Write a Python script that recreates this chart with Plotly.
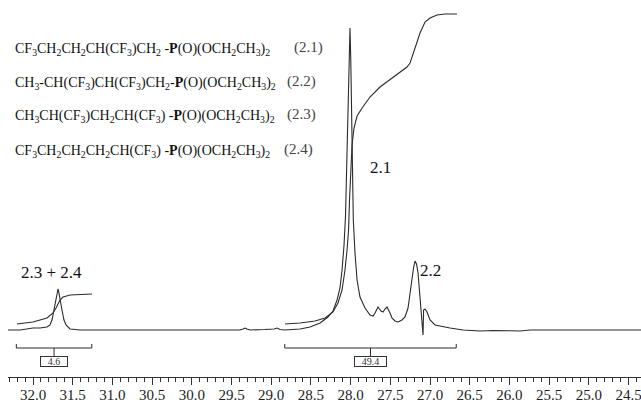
import plotly.graph_objects as go

# 31P NMR spectrum (ppm, intensity a.u.)
spec_ppm = [32.315, 32.164, 32.000, 31.912, 31.824, 31.786, 31.761, 31.736, 31.710, 31.698,
            31.685, 31.673, 31.660, 31.635, 31.610, 31.584, 31.534, 31.408, 31.156, 29.393,
            29.355, 29.330, 29.305, 29.267, 29.078, 28.965, 28.927, 28.889, 28.826, 28.637,
            28.511, 28.385, 28.285, 28.222, 28.171, 28.134, 28.108, 28.083, 28.064, 28.045,
            28.029, 28.016, 28.008, 27.998, 27.988, 27.976, 27.966, 27.945, 27.919, 27.882,
            27.819, 27.756, 27.718, 27.693, 27.655, 27.617, 27.592, 27.567, 27.542, 27.504,
            27.479, 27.441, 27.403, 27.353, 27.315, 27.277, 27.252, 27.227, 27.208, 27.189,
            27.170, 27.151, 27.126, 27.101, 27.088, 27.081, 27.063, 27.038, 27.000, 26.937,
            26.836, 26.748, 26.584, 26.370, 26.207, 26.055, 25.867, 25.741, 24.343]
spec_int = [0, 0, 2, 2, 3, 5, 10, 20, 32, 38,
            41, 37, 30, 20, 10, 5, 1, 0, 0, 0,
            1, 2, 1, 0, 0.5, 1, 2, 0.5, 0, 1,
            3, 7, 13, 19, 30, 42, 60, 85, 115, 170,
            230, 275, 302, 270, 230, 170, 110, 77, 50, 33,
            22, 15, 14, 17, 23, 19, 18, 21, 23, 17,
            12, 9, 8, 10, 13, 22, 37, 52, 62, 69,
            66, 57, 30, 13, -5, 20, 21, 18, 10, 5,
            3, 2, 0, -1, -0.5, -1, -1, 0, 0]

# integral curves
int_left_ppm = [32.202, 32.000, 31.824, 31.748, 31.710, 31.685, 31.660, 31.622, 31.534, 31.257]
int_left_val = [6, 8, 12, 17, 22, 27, 30, 33, 35, 36]
int_right_ppm = [28.826, 28.637, 28.448, 28.322, 28.222, 28.159, 28.108, 28.071, 28.045, 28.026,
                 28.014, 28.001, 27.982, 27.957, 27.919, 27.856, 27.756, 27.630, 27.466, 27.378,
                 27.290, 27.252, 27.214, 27.176, 27.126, 27.063, 27.000, 26.912, 26.811, 26.660]
int_right_val = [6, 7, 9, 12, 18, 27, 40, 60, 80, 100,
                 130, 160, 185, 202, 214, 222, 233, 243, 253, 258,
                 263, 267, 275, 285, 297, 308, 312, 315, 316, 316]

# integration regions and values
region_left = [32.21, 31.26]
region_right = [28.83, 26.67]
integral_labels = ["4.6", "49.4"]

# peak labels
peak_labels = ["2.1", "2.2", "2.3 + 2.4"]
peak_label_ppm = [27.63, 27.00, 31.761]
peak_label_int = [163, 60, 58]

# compound list
formulas = [
    "CF<sub>3</sub>CH<sub>2</sub>CH<sub>2</sub>CH(CF<sub>3</sub>)CH<sub>2</sub> -<b>P</b>(O)(OCH<sub>2</sub>CH<sub>3</sub>)<sub>2</sub>",
    "CH<sub>3</sub>-CH(CF<sub>3</sub>)CH(CF<sub>3</sub>)CH<sub>2</sub>-<b>P</b>(O)(OCH<sub>2</sub>CH<sub>3</sub>)<sub>2</sub>",
    "CH<sub>3</sub>CH(CF<sub>3</sub>)CH<sub>2</sub>CH(CF<sub>3</sub>) -<b>P</b>(O)(OCH<sub>2</sub>CH<sub>3</sub>)<sub>2</sub>",
    "CF<sub>3</sub>CH<sub>2</sub>CH<sub>2</sub>CH<sub>2</sub>CH(CF<sub>3</sub>) -<b>P</b>(O)(OCH<sub>2</sub>CH<sub>3</sub>)<sub>2</sub>",
]
formula_ids = ["(2.1)", "(2.2)", "(2.3)", "(2.4)"]

FONT = "Liberation Serif"
LINE = "#2b2b2b"

fig = go.Figure()
fig.add_trace(go.Scatter(x=spec_ppm, y=spec_int, mode="lines",
                         line=dict(color=LINE, width=1.1), hoverinfo="skip"))
fig.add_trace(go.Scatter(x=int_left_ppm, y=int_left_val, mode="lines",
                         line=dict(color=LINE, width=1.1), hoverinfo="skip"))
fig.add_trace(go.Scatter(x=int_right_ppm, y=int_right_val, mode="lines",
                         line=dict(color=LINE, width=1.1), hoverinfo="skip"))

shapes = []
annotations = []
for reg, lab in zip([region_left, region_right], integral_labels):
    a, b = reg
    mid = (a + b) / 2
    ybr = -18
    shapes.append(dict(type="line", xref="x", yref="y", x0=a, x1=b, y0=ybr, y1=ybr,
                       line=dict(color=LINE, width=1)))
    for e in (a, b):
        shapes.append(dict(type="line", xref="x", yref="y", x0=e, x1=e, y0=ybr, y1=ybr + 4,
                           line=dict(color=LINE, width=1)))
    shapes.append(dict(type="line", xref="x", yref="y", x0=mid, x1=mid, y0=ybr, y1=-26,
                       line=dict(color=LINE, width=1)))
    annotations.append(dict(x=mid, y=-31.5, xref="x", yref="y", text=lab, showarrow=False,
                            font=dict(family=FONT, size=10, color="#333"),
                            bordercolor="#333", borderwidth=1, borderpad=0,
                            bgcolor="white", width=26 if len(lab) < 4 else 31, height=9))

for t, px, py in zip(peak_labels, peak_label_ppm, peak_label_int):
    annotations.append(dict(x=px, y=py, xref="x", yref="y", text=t, showarrow=False,
                            font=dict(family=FONT, size=17, color="#111")))

W, H = 641, 406
ML, MB = 8, 29
PW, PH = W - ML, H - MB
formula_y = [49, 83, 117, 151]
id_x = [292, 285, 285, 282]
for f, fid, fy, ix in zip(formulas, formula_ids, formula_y, id_x):
    annotations.append(dict(x=(13 - ML) / PW, y=(PH - fy) / PH, xref="paper", yref="paper",
                            text=f, showarrow=False, xanchor="left", yanchor="middle",
                            font=dict(family=FONT, size=14, color="#111")))
    annotations.append(dict(x=(ix - ML) / PW, y=(PH - fy + 2) / PH, xref="paper", yref="paper",
                            text=fid, showarrow=False, xanchor="left", yanchor="middle",
                            font=dict(family=FONT, size=15, color="#444")))

fig.update_layout(
    width=W, height=H,
    margin=dict(l=ML, r=0, t=0, b=MB, autoexpand=False),
    paper_bgcolor="white", plot_bgcolor="white",
    showlegend=False,
    shapes=shapes, annotations=annotations,
    xaxis=dict(range=[32.315, 24.343], showgrid=False, zeroline=False, automargin=False,
               showline=True, linecolor="#333", linewidth=1,
               ticks="outside", ticklen=7, tickwidth=1, tickcolor="#333",
               tick0=0, dtick=0.5, tickformat=".1f", ticklabeloverflow="allow",
               ticklabelstandoff=-3,
               tickfont=dict(family=FONT, size=15, color="#222"),
               minor=dict(dtick=0.1, tick0=0, ticks="outside", ticklen=4,
                          tickwidth=1, tickcolor="#333", showgrid=False)),
    yaxis=dict(range=[-47, 330], visible=False, showgrid=False, zeroline=False),
)

fig.write_html("out.html", config={"displayModeBar": False},
               post_script="document.body.style.margin='0';document.body.style.overflow='hidden';")
